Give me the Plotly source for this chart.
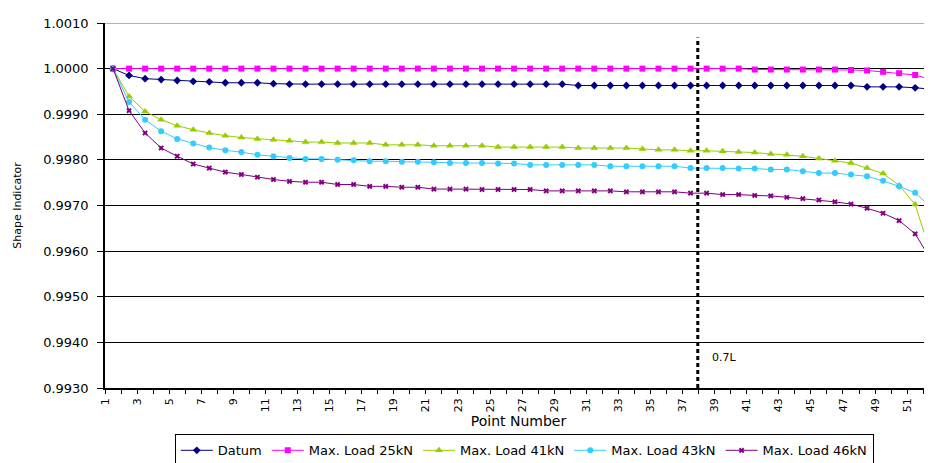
import plotly.graph_objects as go

points = list(range(1, 53))
tick_positions = [p - 0.5 for p in points]
tick_labels = [str(p) if p % 2 == 1 else "" for p in points]

datum = [1.0000, 0.99985, 0.99978, 0.99976, 0.99974, 0.99972, 0.99971, 0.99969, 0.99969, 0.99969,
         0.99967, 0.99966, 0.99966] + [0.99966] * 13 + [0.99966] * 3 + [0.99963] * 18 + \
        [0.99960] * 3 + [0.99958, 0.99955]

load25 = [1.0000] * 40 + [0.99998] * 6 + [0.99997, 0.99996, 0.99993, 0.99990, 0.99986, 0.99976]

load41 = [1.0000, 0.99939, 0.99906, 0.99888, 0.99875, 0.99866, 0.99859, 0.99853, 0.99849, 0.99846,
          0.99844, 0.99842, 0.99839, 0.99839] + [0.99837] * 3 + [0.99833] * 3 + [0.99831] * 4 + \
         [0.99828] * 5 + [0.99826] * 4 + [0.99824, 0.99822, 0.99822, 0.99820, 0.99820, 0.99819, 0.99817,
                                          0.99816, 0.99813, 0.99811, 0.99808, 0.99803, 0.99798, 0.99793,
                                          0.99782, 0.99770, 0.99744, 0.99702, 0.99592]

load43 = [1.0000, 0.99927, 0.99888, 0.99863, 0.99846, 0.99836, 0.99827, 0.99821, 0.99817, 0.99811,
          0.99808, 0.99804, 0.99802, 0.99802, 0.99800, 0.99799, 0.99797, 0.99797, 0.99796, 0.99796,
          0.99795, 0.99793, 0.99793, 0.99793, 0.99792, 0.99792] + [0.99789] * 5 + [0.99786] * 5 + \
         [0.99782] * 3 + [0.99781, 0.99781, 0.99779, 0.99779, 0.99775, 0.99771, 0.99771, 0.99768,
                          0.99764, 0.99754, 0.99742, 0.99728, 0.99696]

load46 = [1.0000, 0.99908, 0.99859, 0.99826, 0.99808, 0.99791, 0.99782, 0.99773, 0.99768, 0.99762,
          0.99757, 0.99753, 0.99751, 0.99751, 0.99746, 0.99746, 0.99742, 0.99742, 0.99740, 0.99740,
          0.99736, 0.99736, 0.99736] + [0.99735] * 4 + [0.99732] * 5 + [0.99730] * 4 + \
         [0.99727, 0.99727, 0.99724, 0.99724, 0.99722, 0.99721, 0.99718, 0.99715, 0.99712, 0.99708,
          0.99703, 0.99694, 0.99683, 0.99667, 0.99638, 0.99580]

series = [
    ("Datum", datum, "#000080", "diamond", 6),
    ("Max. Load 25kN", load25, "#FF00FF", "square", 6),
    ("Max. Load 41kN", load41, "#99CC00", "triangle-up", 7),
    ("Max. Load 43kN", load43, "#33CCFF", "circle", 6),
    ("Max. Load 46kN", load46, "#800080", "x", 5),
]

marker_line_x = 37.45
marker_label = "0.7L"
y_ticks = [0.9930, 0.9940, 0.9950, 0.9960, 0.9970, 0.9980, 0.9990, 1.0000, 1.0010]

FONT = "DejaVu Sans"

fig = go.Figure()
for name, vals, color, sym, size in series:
    fig.add_trace(go.Scatter(
        x=points, y=vals, name=name, mode="lines+markers",
        line=dict(color=color, width=1),
        marker=dict(symbol=sym, size=size, color=color, line=dict(width=0)),
        cliponaxis=False,
    ))

fig.add_shape(type="line", xref="x", yref="y", x0=marker_line_x, x1=marker_line_x,
              y0=0.9930, y1=1.00068, line=dict(color="black", width=3, dash="4px,3px"))
fig.add_shape(type="line", xref="paper", yref="y", x0=0, x1=1, y0=1.0010, y1=1.0010,
              line=dict(color="#999999", width=1.5))
fig.add_annotation(x=38.2, y=0.99366, xref="x", yref="y", text=marker_label, showarrow=False,
                   xanchor="left", yanchor="middle", font=dict(family=FONT, size=11, color="black"))

# The page body adds an 8px offset, so the figure is sized 8px smaller on each side.
fig.update_layout(
    width=924, height=455,
    margin=dict(l=97, r=0, t=15, b=75, autoexpand=False),
    paper_bgcolor="white", plot_bgcolor="white",
    font=dict(family=FONT, color="black"),
    showlegend=True,
    legend=dict(orientation="h", x=0.507, xanchor="center", y=-0.127, yanchor="top",
                bordercolor="black", borderwidth=1, bgcolor="white",
                font=dict(family=FONT, size=13, color="black"),
                tracegroupgap=0, itemwidth=32),
    xaxis=dict(
        range=[0.5, 52.05], tickmode="array", tickvals=tick_positions, ticktext=tick_labels,
        tickangle=-90, ticks="outside", ticklen=4, tickcolor="black", tickwidth=1,
        showline=True, linecolor="black", linewidth=1.5, showgrid=False, zeroline=False,
        tickfont=dict(family=FONT, size=11, color="black"),
        title=dict(text="Point Number", font=dict(family=FONT, size=14, color="black"), standoff=5),
    ),
    yaxis=dict(
        range=[0.9930, 1.0010], tickmode="array", tickvals=y_ticks, tickformat=".4f",
        ticks="outside", ticklen=6, tickcolor="black", tickwidth=1, ticklabelstandoff=6,
        showline=True, linecolor="black", linewidth=1.5,
        showgrid=True, gridcolor="black", gridwidth=1, zeroline=False,
        tickfont=dict(family=FONT, size=13, color="black"),
        title=dict(text="Shape Indicator", font=dict(family=FONT, size=11, color="black"), standoff=19),
    ),
)

fig.write_html("out.html")
